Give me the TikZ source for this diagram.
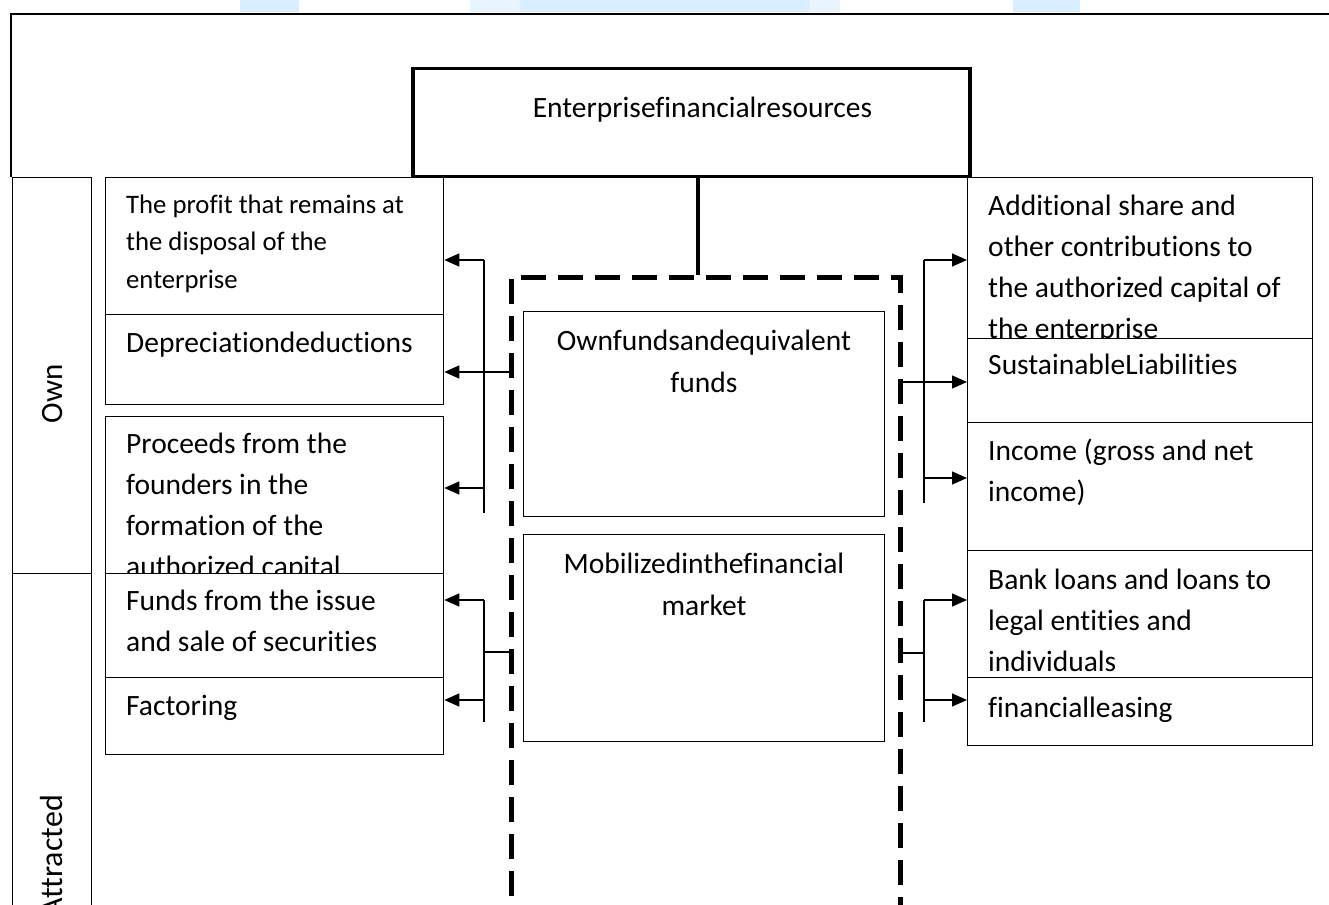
\documentclass[tikz,border=0pt]{standalone}
\usepackage{fontspec}
\setmainfont[Ligatures=NoCommon]{Carlito}
\usetikzlibrary{arrows.meta}
\newcommand\TL[1]{\hbox{#1}}
\newcommand\TC[1]{\hbox to 0pt{\hss#1\hss}}
\newcommand\Stk[2]{\vtop{\baselineskip=#1pt\lineskiplimit=-1000pt\relax#2}}
\definecolor{wm}{RGB}{217,238,255}
\definecolor{wmb}{RGB}{232,245,255}
\begin{document}
\begin{tikzpicture}[x=1pt,y=-1pt,
  bx/.style={draw, line width=1.3pt, fill=white, inner sep=0pt, anchor=north west},
  txt/.style={inner sep=0pt, anchor=base west, font=\fontsize{29.5}{41}\selectfont},
  stxt/.style={inner sep=0pt, anchor=base west, font=\fontsize{26.7}{37.5}\selectfont},
  ctxt/.style={inner sep=0pt, anchor=base, font=\fontsize{29.5}{41}\selectfont},
  rtxt/.style={inner sep=0pt, rotate=90, font=\fontsize{31}{41}\selectfont},
  conn/.style={line width=1.4pt},
  arr/.style={line width=1.4pt, -{Triangle[length=15pt,width=13pt]}},
]
\useasboundingbox (0,0) rectangle (1329,904);
\clip (0,0) rectangle (1329,904);
% faint watermark
\fill[wm] (240,0) rectangle (299,12);
\fill[wmb] (470,0) rectangle (520,12);
\fill[wm] (520,0) rectangle (810,12);
\fill[wmb] (810,0) rectangle (840,12);
\fill[wm] (1013,0) rectangle (1080,12);
% outer frame
\draw[line width=2pt] (11,177) -- (11,14) -- (1345,14);
% top box
\node[bx, line width=3.5pt, minimum width=557pt, minimum height=108pt] (top) at (411,67) {};
\node[ctxt] (toptx) at (702.5,118) {Enterprisefinancialresources};
% side category boxes
\node[bx, minimum width=79pt, minimum height=396pt] (own) at (12,177) {};
\node[rtxt, anchor=base] (owntx) at (62,394) {Own};
\node[bx, minimum width=79pt, minimum height=420pt] (att) at (12,573) {};
\node[rtxt, anchor=base east, font=\fontsize{32}{41}\selectfont] (atttx) at (62,795) {Attracted};
% dashed group
\node[draw, line width=4.5pt, dash pattern=on 25pt off 12pt, inner sep=0pt, anchor=north west,
      minimum width=389pt, minimum height=700pt] (grp) at (509,275) {};
\coordinate (tx) at (698,0);
\draw[line width=4.5pt] (top.south -| tx) -- (grp.north -| tx);
% center boxes
\node[bx, minimum width=361pt, minimum height=205pt] (c1) at (523,311) {};
\node[ctxt] (c1tx) at (704,350) {\Stk{42}{\TC{Ownfundsandequivalent}\TC{funds}}};
\node[bx, minimum width=361pt, minimum height=207pt] (c2) at (523,534) {};
\node[ctxt] (c2tx) at (704,573) {\Stk{42}{\TC{Mobilizedinthefinancial}\TC{market}}};
% left column
\node[bx, minimum width=338pt, minimum height=137pt] (b1) at (105,177) {};
\node[stxt] (b1tx) at (126,213) {\Stk{37.5}{\TL{The profit that remains at}\TL{the disposal of the}\TL{enterprise}}};
\node[bx, minimum width=338pt, minimum height=90pt] (b2) at (105,314) {};
\node[txt] (b2tx) at (126,352) {Depreciationdeductions};
\node[bx, minimum width=338pt, minimum height=157pt] (b3) at (105,416) {};
\node[txt] (b3tx) at (126,453) {\Stk{41}{\TL{Proceeds from the}\TL{founders in the}\TL{formation of the}\TL{authorized capital}}};
\node[bx, minimum width=338pt, minimum height=104pt] (b4) at (105,573) {};
\node[txt] (b4tx) at (126,610) {\Stk{41}{\TL{Funds from the issue}\TL{and sale of securities}}};
\node[bx, minimum width=338pt, minimum height=77pt] (b5) at (105,677) {};
\node[txt] (b5tx) at (126,715) {Factoring};
% right column
\node[bx, minimum width=345pt, minimum height=161pt] (r1) at (967,177) {};
\node[txt] (r1tx) at (988,215) {\Stk{41}{\TL{Additional share and}\TL{other contributions to}\TL{the authorized capital of}\TL{the enterprise}}};
\node[bx, minimum width=345pt, minimum height=84pt] (r2) at (967,338) {};
\node[txt] (r2tx) at (988,374) {SustainableLiabilities};
\node[bx, minimum width=345pt, minimum height=128pt] (r3) at (967,422) {};
\node[txt] (r3tx) at (988,460) {\Stk{41}{\TL{Income (gross and net}\TL{income)}}};
\node[bx, minimum width=345pt, minimum height=127pt] (r4) at (967,550) {};
\node[txt] (r4tx) at (988,589) {\Stk{41}{\TL{Bank loans and loans to}\TL{legal entities and}\TL{individuals}}};
\node[bx, minimum width=345pt, minimum height=68pt] (r5) at (967,677) {};
\node[txt] (r5tx) at (988,717) {financialleasing};
% left connectors, upper
\coordinate (l1) at (484,260);
\coordinate (l2) at (484,372);
\coordinate (l3) at (484,488);
\coordinate (l4) at (484,513);
\draw[conn] (l1) -- (l4);
\draw[arr] (l1) -- (l1 -| b1.east);
\draw[arr] (l2 -| grp.west) -- (l2 -| b2.east);
\draw[arr] (l3) -- (l3 -| b3.east);
% left connectors, lower
\coordinate (m1) at (484,600);
\coordinate (m2) at (484,652);
\coordinate (m3) at (484,700);
\coordinate (m4) at (484,722);
\draw[conn] (m1) -- (m4);
\draw[conn] (m2 -| grp.west) -- (m2);
\draw[arr] (m1) -- (m1 -| b4.east);
\draw[arr] (m3) -- (m3 -| b5.east);
% right connectors, upper
\coordinate (p1) at (924,260);
\coordinate (p2) at (924,382);
\coordinate (p3) at (924,478);
\coordinate (p4) at (924,503);
\draw[conn] (p1) -- (p4);
\draw[arr] (p1) -- (p1 -| r1.west);
\draw[arr] (p2 -| grp.east) -- (p2 -| r2.west);
\draw[arr] (p3) -- (p3 -| r3.west);
% right connectors, lower
\coordinate (q1) at (924,600);
\coordinate (q2) at (924,653);
\coordinate (q3) at (924,700);
\coordinate (q4) at (924,722);
\draw[conn] (q1) -- (q4);
\draw[conn] (q2 -| grp.east) -- (q2);
\draw[arr] (q1) -- (q1 -| r4.west);
\draw[arr] (q3) -- (q3 -| r5.west);
\end{tikzpicture}
\end{document}
